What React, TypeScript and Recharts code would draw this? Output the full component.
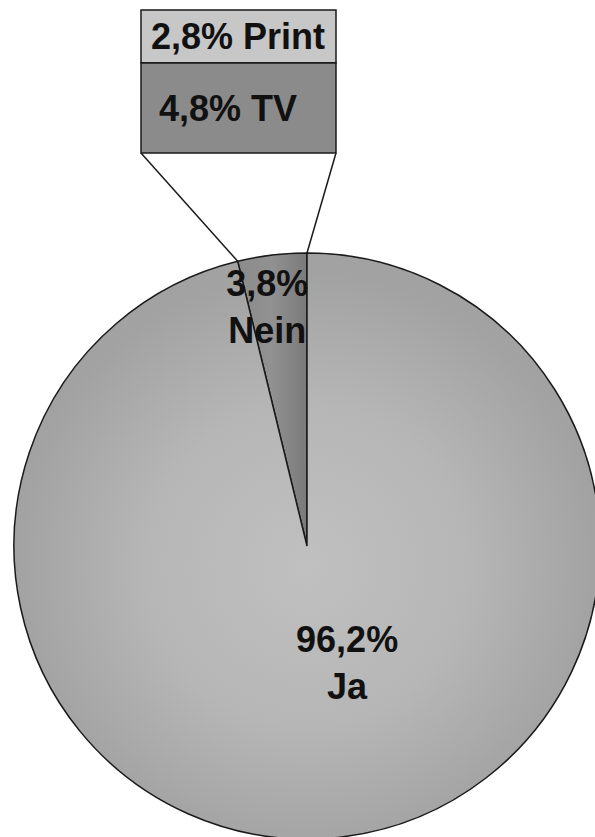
import React from 'react';
import { PieChart, Pie, Cell, BarChart, Bar, XAxis, YAxis } from 'recharts';

// Haupt-Kreis: Ja / Nein
const pieNames = ['Nein', 'Ja'];
const pieValues = [3.8, 96.2];

// Aufschlüsselung im Balken (von unten nach oben gestapelt)
const barNames = ['TV', 'Print'];
const barValues = [4.8, 2.8];

const W = 595;
const H = 837;
const FONT = '"Liberation Sans", Arial, sans-serif';
const FONT_SIZE = 36;

const PIE_CX = 307;
const PIE_CY = 546;
const PIE_R = 293;
const START = 90;

// Balkenbereich
const BAR_LEFT = 141;
const BAR_RIGHT = 336;
const BAR_TOP = 10;
const BAR_BOTTOM = 153;
const BAR_SVG_H = 170;

const pieData = pieNames.map((name, i) => ({ name, value: pieValues[i] }));
const barRow: Record<string, string | number> = { name: 'Nein' };
barNames.forEach((n, i) => { barRow[n] = barValues[i]; });
const barTotal = barValues.reduce((a, b) => a + b, 0);
const pieTotal = pieValues.reduce((a, b) => a + b, 0);

const fmt = (v: number) => v.toFixed(1).replace('.', ',') + '%';

const sliceFill: Record<string, string> = { Nein: 'url(#gradNein)', Ja: 'url(#gradJa)' };
const labelPlace: Record<string, { r: number; dx: number; dy: number }> = {
  Nein: { r: 0.826, dx: -11, dy: 2 },
  Ja: { r: 0.405, dx: 26, dy: 0 },
};
const barFill: Record<string, string> = { TV: '#8b8b8b', Print: '#c7c7c7' };
const barLabelDx: Record<string, number> = { TV: 18, Print: 10 };

const RAD = Math.PI / 180;

const renderPieLabel = (props: any) => {
  const { cx, cy, midAngle, outerRadius, index } = props;
  const name = pieNames[index];
  const p = labelPlace[name];
  const r = outerRadius * p.r;
  const x = cx + r * Math.cos(-midAngle * RAD) + p.dx;
  const y = cy + r * Math.sin(-midAngle * RAD) + p.dy;
  return (
    <text
      x={x}
      y={y}
      textAnchor="middle"
      fill="#111"
      fontFamily={FONT}
      fontWeight="bold"
      fontSize={FONT_SIZE}
    >
      <tspan x={x} dy={-12}>{fmt(pieValues[index])}</tspan>
      <tspan x={x} dy={47}>{name}</tspan>
    </text>
  );
};

const makeBarLabel = (idx: number) => (props: any) => {
  const { x, y, height } = props;
  const name = barNames[idx];
  return (
    <text
      x={x + barLabelDx[name]}
      y={y + height / 2 + 13}
      textAnchor="start"
      fill="#111"
      fontFamily={FONT}
      fontWeight="bold"
      fontSize={FONT_SIZE}
    >
      {`${fmt(barValues[idx])} ${name}`}
    </text>
  );
};

// Verbindungslinien vom Balken zum Nein-Segment
const Connectors = () => {
  const neinEnd = START + (pieValues[0] / pieTotal) * 360;
  const ex = PIE_CX + PIE_R * Math.cos(neinEnd * RAD);
  const ey = PIE_CY - PIE_R * Math.sin(neinEnd * RAD);
  const sx = PIE_CX + PIE_R * Math.cos(START * RAD);
  const sy = PIE_CY - PIE_R * Math.sin(START * RAD);
  return (
    <svg width={W} height={H} style={{ position: 'absolute', left: 0, top: 0 }}>
      <line x1={BAR_LEFT} y1={BAR_BOTTOM} x2={ex} y2={ey} stroke="#1a1a1a" strokeWidth={1.5} />
      <line x1={BAR_RIGHT} y1={BAR_BOTTOM} x2={sx} y2={sy} stroke="#1a1a1a" strokeWidth={1.5} />
    </svg>
  );
};

export default function App() {
  return (
    <div style={{ position: 'absolute', left: 0, top: 0, width: W, height: H, background: '#fff', overflow: 'hidden' }}>
      <div style={{ position: 'absolute', left: 0, top: 0 }}>
        <PieChart width={W} height={H} margin={{ top: 0, right: 0, bottom: 0, left: 0 }}>
          <defs>
            <radialGradient id="gradJa" gradientUnits="userSpaceOnUse" cx={PIE_CX} cy={PIE_CY + 20} r={PIE_R}>
              <stop offset="0%" stopColor="#c0c0c0" />
              <stop offset="55%" stopColor="#b6b6b6" />
              <stop offset="100%" stopColor="#a2a2a2" />
            </radialGradient>
            <linearGradient id="gradNein" gradientUnits="userSpaceOnUse" x1={230} y1={0} x2={PIE_CX} y2={0}>
              <stop offset="0%" stopColor="#8a8a8a" />
              <stop offset="55%" stopColor="#919191" />
              <stop offset="100%" stopColor="#7a7a7a" />
            </linearGradient>
          </defs>
          <Pie
            data={pieData}
            dataKey="value"
            nameKey="name"
            cx={PIE_CX}
            cy={PIE_CY}
            outerRadius={PIE_R}
            startAngle={START}
            endAngle={START + 360}
            stroke="#1a1a1a"
            strokeWidth={1.5}
            labelLine={false}
            label={renderPieLabel}
            isAnimationActive={false}
          >
            {pieData.map((d) => (
              <Cell key={d.name} fill={sliceFill[d.name]} />
            ))}
          </Pie>
        </PieChart>
      </div>
      <Connectors />
      <div style={{ position: 'absolute', left: 0, top: 0 }}>
        <BarChart
          width={W}
          height={BAR_SVG_H}
          data={[barRow]}
          barCategoryGap={0}
          margin={{ top: BAR_TOP, right: W - BAR_RIGHT, bottom: BAR_SVG_H - BAR_BOTTOM, left: BAR_LEFT }}
        >
          <XAxis dataKey="name" type="category" hide />
          <YAxis type="number" domain={[0, barTotal]} hide />
          {barNames.map((n, i) => (
            <Bar
              key={n}
              dataKey={n}
              stackId="medien"
              fill={barFill[n]}
              stroke="#1a1a1a"
              strokeWidth={1.5}
              label={makeBarLabel(i)}
              isAnimationActive={false}
            />
          ))}
        </BarChart>
      </div>
    </div>
  );
}
